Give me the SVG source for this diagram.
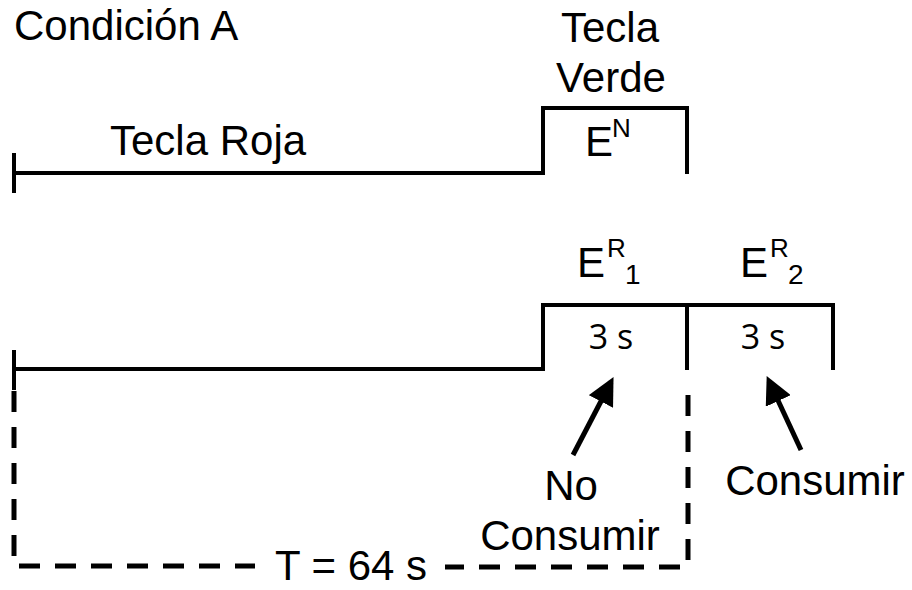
<svg xmlns="http://www.w3.org/2000/svg" width="912" height="590" viewBox="0 0 912 590">
<style>
.t{font-family:"Liberation Sans",Arial,sans-serif;font-size:42px;fill:#000}
.sup{font-family:"Liberation Sans",Arial,sans-serif;font-size:26px;fill:#000}
.sub{font-family:"Liberation Sans",Arial,sans-serif;font-size:28px;fill:#000}
.s{font-family:"Open Sans","Noto Sans",sans-serif;font-size:34px;fill:#000}
.ln{fill:none;stroke:#000;stroke-width:4;stroke-linejoin:miter}
.dash{fill:none;stroke:#000;stroke-width:5;stroke-dasharray:21 15}
.arr{stroke:#000;stroke-width:5;fill:none}
</style>
<defs>
<marker id="ah" viewBox="0 0 10 10" refX="8" refY="5" markerWidth="5.5" markerHeight="5.5" markerUnits="strokeWidth" orient="auto">
<path d="M0,0 L10,5 L0,10 Z" fill="#000"/>
</marker>
</defs>
<rect width="912" height="590" fill="#fff"/>
<g id="title"><text class="t" x="14" y="40">Condición A</text></g>
<g id="roja-top">
<path class="ln" d="M14,153 V193"/>
<path class="ln" d="M14,173 H543 V108 H687 V174"/>
<text class="t" x="110" y="155">Tecla Roja</text>
</g>
<g id="verde">
<text class="t" x="610" y="42" text-anchor="middle">Tecla</text>
<text class="t" x="611" y="92" text-anchor="middle">Verde</text>
<text class="t" x="585" y="156">E</text>
<text class="sup" x="612" y="137">N</text>
</g>
<g id="roja-bottom">
<path class="ln" d="M14,350 V390"/>
<path class="ln" d="M14,369 H543 V305 H833 V370"/>
<path class="ln" d="M687,305 V370"/>
</g>
<g id="er1">
<text class="t" x="577" y="277">E</text>
<text class="sup" x="607" y="257">R</text>
<text class="sub" x="625" y="284">1</text>
<text class="s" x="611" y="349" text-anchor="middle">3 s</text>
</g>
<g id="er2">
<text class="t" x="740" y="277">E</text>
<text class="sup" x="770" y="257">R</text>
<text class="sub" x="788" y="284">2</text>
<text class="s" x="763" y="349" text-anchor="middle">3 s</text>
</g>
<g id="connectors">
<path class="dash" d="M14,391 V566 H255"/>
<path class="dash" d="M688,395 V567 H445"/>
<line class="arr" x1="573" y1="455" x2="611" y2="382" marker-end="url(#ah)"/>
<line class="arr" x1="801" y1="450" x2="769" y2="381" marker-end="url(#ah)"/>
</g>
<g id="labels">
<text class="t" x="351" y="580" text-anchor="middle">T = 64 s</text>
<text class="t" x="571" y="500" text-anchor="middle">No</text>
<text class="t" x="570" y="550" text-anchor="middle">Consumir</text>
<text class="t" x="815" y="495" text-anchor="middle">Consumir</text>
</g>
</svg>
